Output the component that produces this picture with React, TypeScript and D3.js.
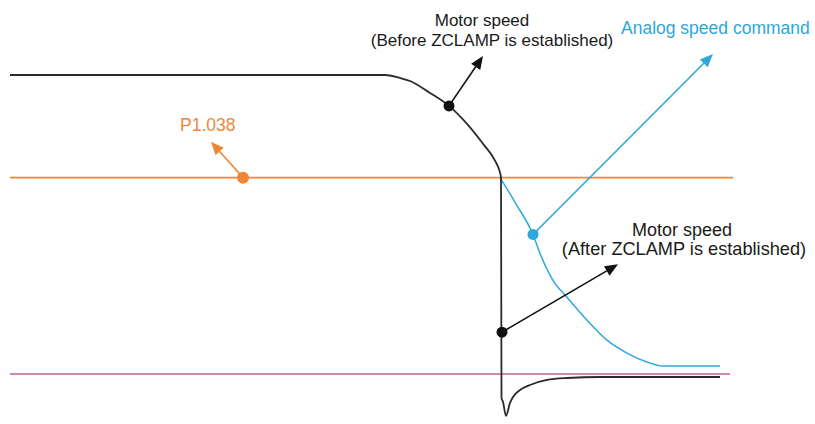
import React from "react";
import * as d3 from "d3";

// time (arbitrary units) and speed (arbitrary units, 0 = pink zero line)
const motorTime = [0, 37.5, 39, 40, 42, 43.9, 45.7, 47.3, 48.5, 49, 49.1, 49.15, 49.3, 49.6, 50, 50.3, 51, 52, 53.7, 55.7, 59, 71];
const motorSpeed = [300, 300, 297, 294, 282, 269, 251, 231, 214, 202, 197, -24, -28, -42, -29, -23, -16, -11, -6, -4, -3, -3];

const cmdTime = [49, 50.7, 52.3, 53, 54.3, 55.7, 57.7, 59.7, 61.7, 63.7, 65.3, 71];
const cmdSpeed = [197, 169, 140, 121, 94, 77, 54, 34, 21, 12, 8, 8];

const zclampLevel = 197; // P1.038
const zclampEnd = 72.3;
const zeroEnd = 72;
const lineStart = 0;

// annotation dots [time, speed] and arrow tips [time, speed]
const orangeDot = [23.3, 197];
const orangeTip = [20.1, 233];
const beforeDot = [43.9, 269];
const beforeTip = [47.3, 319];
const afterDot = [49.2, 42];
const afterTip = [60.8, 110];
const cmdDot = [52.3, 140];
const cmdTip = [70.3, 321];

const labelP = "P1.038";
const labelCmd = "Analog speed command";
const labelBefore = ["Motor speed", "(Before ZCLAMP is established)"];
const labelAfter = ["Motor speed", "(After ZCLAMP is established)"];

const W = 815;
const H = 424;

const BLACK = "#2b2b2b";
const ORANGE = "#ef8636";
const CYAN = "#2ea7da";
const PINK = "#c75c9c";

export default function App() {
  const x = d3.scaleLinear().domain([0, 72]).range([10, 730]);
  const y = d3.scaleLinear().domain([0, 300]).range([374, 75]);

  const curve = d3
    .line<[number, number]>()
    .x(d => x(d[0]))
    .y(d => y(d[1]))
    .curve(d3.curveMonotoneX);

  const motorPath = curve(motorTime.map((t, i) => [t, motorSpeed[i]]));
  const cmdPath = curve(cmdTime.map((t, i) => [t, cmdSpeed[i]]));

  const arrow = (from: number[], to: number[], color: string, id: string) => {
    const x1 = x(from[0]);
    const y1 = y(from[1]);
    const x2 = x(to[0]);
    const y2 = y(to[1]);
    const a = Math.atan2(y2 - y1, x2 - x1);
    const len = 13;
    const hw = 5.5;
    const bx = x2 - len * Math.cos(a);
    const by = y2 - len * Math.sin(a);
    const px = -Math.sin(a) * hw;
    const py = Math.cos(a) * hw;
    return (
      <g key={id}>
        <line x1={x1} y1={y1} x2={bx} y2={by} stroke={color} strokeWidth={1.6} />
        <path d={`M${x2},${y2}L${bx + px},${by + py}L${bx - px},${by - py}Z`} fill={color} />
      </g>
    );
  };

  const font = "'Liberation Sans', Arial, sans-serif";

  return (
    <svg width={W} height={H} style={{ position: "absolute", left: 0, top: 0, background: "#fff" }}>
      <line x1={x(lineStart)} x2={x(zeroEnd)} y1={y(0)} y2={y(0)} stroke={PINK} strokeWidth={1.3} />
      <line x1={x(lineStart)} x2={x(zclampEnd)} y1={y(zclampLevel)} y2={y(zclampLevel)} stroke={ORANGE} strokeWidth={1.8} />
      <path d={cmdPath || ""} fill="none" stroke={CYAN} strokeWidth={1.5} />
      <path d={motorPath || ""} fill="none" stroke={BLACK} strokeWidth={1.8} />

      {arrow(orangeDot, orangeTip, ORANGE, "o")}
      {arrow(beforeDot, beforeTip, "#111", "b")}
      {arrow(afterDot, afterTip, "#111", "a")}
      {arrow(cmdDot, cmdTip, CYAN, "c")}

      <circle cx={x(orangeDot[0])} cy={y(orangeDot[1])} r={6} fill={ORANGE} />
      <circle cx={x(beforeDot[0])} cy={y(beforeDot[1])} r={5.5} fill="#111" />
      <circle cx={x(afterDot[0])} cy={y(afterDot[1])} r={5.5} fill="#111" />
      <circle cx={x(cmdDot[0])} cy={y(cmdDot[1])} r={5.5} fill={CYAN} />

      <g fontFamily={font} fontSize={17}>
        <text x={180} y={131} fill={ORANGE} fontSize={17.5}>{labelP}</text>
        <text x={621} y={34} fill={CYAN} fontSize={17.5}>{labelCmd}</text>
        <text x={482} y={26} fill="#1a1a1a" textAnchor="middle">{labelBefore[0]}</text>
        <text x={492} y={46} fill="#1a1a1a" textAnchor="middle">{labelBefore[1]}</text>
        <text x={682} y={236} fill="#1a1a1a" textAnchor="middle" fontSize={18}>{labelAfter[0]}</text>
        <text x={684} y={255} fill="#1a1a1a" textAnchor="middle" fontSize={18.2}>{labelAfter[1]}</text>
      </g>
    </svg>
  );
}
